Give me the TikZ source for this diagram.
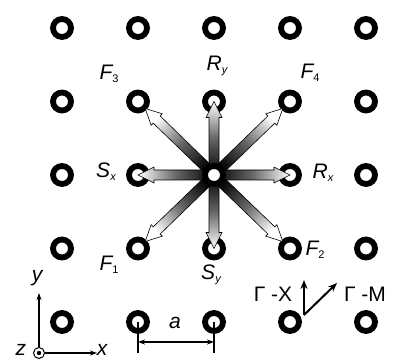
\documentclass[tikz,border=0pt]{standalone}
\usepackage{fontspec}
\setmainfont{Liberation Sans}
\usepackage{tikz}
\usetikzlibrary{arrows.meta,calc}

\newcommand{\lsub}[1]{\raisebox{-3pt}{\fontsize{11}{11}\selectfont #1}}
% shaded beam: from, to, shading angle, stop short of target by
\newcommand{\beam}[4]{%
  \coordinate (bt) at ($(#2)!#4!(#1)$);
  \coordinate (bh) at ($(bt)!16pt!(#1)$);
  \shade[top color=white, bottom color=black, middle color=black!60, draw=black, line width=0.6pt, shading angle=#3]
    ($(#1)!5pt!90:(bt)$) -- ($(bh)!5pt!-90:(#1)$) -- ($(bh)!8pt!-90:(#1)$) -- (bt)
    -- ($(bh)!8pt!90:(#1)$) -- ($(bh)!5pt!90:(#1)$) -- ($(#1)!5pt!-90:(bt)$) -- cycle;
}

\begin{document}
\begin{tikzpicture}[x=1pt, y=1pt,
      hole/.style={circle, draw, line width=5.8pt, fill=white, minimum size=18pt, inner sep=0pt},
      lbl/.style={font=\fontsize{21}{24}\selectfont, inner sep=0pt},
      zax/.style={circle, draw, line width=1pt, fill=white, minimum size=11pt, inner sep=0pt},
      ax/.style={-{Stealth[length=7pt, width=5pt]}, line width=1.2pt},
      dim/.style={{Stealth[length=7pt, width=5pt]}-{Stealth[length=7pt, width=5pt]}, line width=1.2pt},
      tick/.style={line width=1.2pt},
      dir/.style={-{Stealth[length=9pt, width=7pt]}, line width=2pt},
    ]
    \useasboundingbox (0,0) rectangle (394,361);
    % lattice
    \foreach \i in {0,...,4}
      \foreach \j in {0,...,4}
        \node[hole] (h\i\j) at ({62+76*\i},{333-73.5*\j}) {};
    % beams to the neighbours
    \beam{h22}{h21}{0}{0pt}
    \beam{h22}{h32}{-90}{0pt}
    \beam{h22}{h12}{90}{0pt}
    \beam{h22}{h23}{180}{0pt}
    \beam{h22}{h31}{-45}{10pt}
    \beam{h22}{h11}{45}{10pt}
    \beam{h22}{h13}{135}{10pt}
    \beam{h22}{h33}{-135}{10pt}
    \node[hole] (core) at (h22) {};
    % labels
    \node[lbl] (f3) at (109,287) {\itshape F\lsub{\upshape 3}};
    \node[lbl] (ry) at (217,295) {\itshape R\lsub{y}};
    \node[lbl] (f4) at (310,288) {\itshape F\lsub{\upshape 4}};
    \node[lbl] (sx) at (106,189) {\itshape S\lsub{x}};
    \node[lbl] (rx) at (323,188) {\itshape R\lsub{x}};
    \node[lbl] (f1) at (109,96) {\itshape F\lsub{\upshape 1}};
    \node[lbl] (f2) at (315,111) {\itshape F\lsub{\upshape 2}};
    \node[lbl] (sy) at (211,86) {\itshape S\lsub{y}};
    % axes
    \node[zax] (orig) at (39,8) {};
    \fill (orig.center) circle (2.2pt);
    \coordinate (ytip) at (39,68);
    \coordinate (xtip) at (97,8);
    \draw[ax] (orig) -- (ytip);
    \draw[ax] (orig) -- (xtip);
    \node[lbl] (ylab) at (37,83) {\itshape y};
    \node[lbl] (xlab) at (102,11) {\itshape x};
    \node[lbl] (zlab) at (21,11) {\itshape z};
    % lattice constant
    \coordinate (d1) at (138,8);
    \coordinate (d2) at (214,8);
    \draw[tick] (h14.center) -- (d1);
    \draw[tick] (h24.center) -- (d2);
    \coordinate (a1) at (138,19);
    \coordinate (a2) at (214,19);
    \draw[dim] (a1) -- (a2);
    \node[lbl] (alab) at (175,38) {\itshape a};
    % directions
    \coordinate (gam) at (304,46);
    \coordinate (gx) at (304,81);
    \coordinate (gm) at (337,78);
    \draw[dir] (gam) -- (gx);
    \draw[dir] (gam) -- (gm);
    \node[lbl] (gxlab) at (273,67) {Γ -X};
    \node[lbl] (gmlab) at (365,67) {Γ -M};
  \end{tikzpicture}
\end{document}
